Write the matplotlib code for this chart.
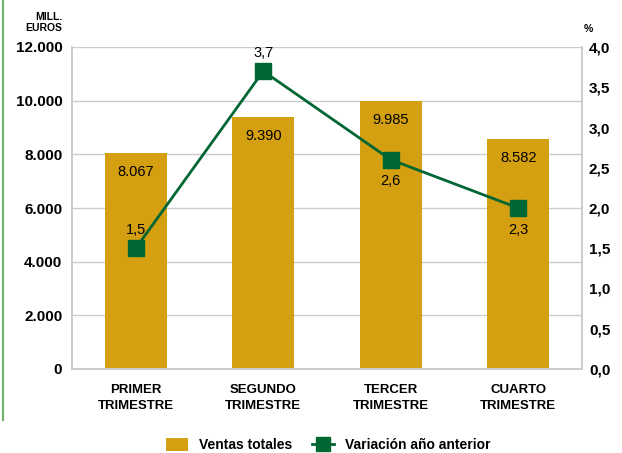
import matplotlib.pyplot as plt
from matplotlib.lines import Line2D
from matplotlib.patches import Patch

# datos
trimestres = ['PRIMER\nTRIMESTRE', 'SEGUNDO\nTRIMESTRE', 'TERCER\nTRIMESTRE', 'CUARTO\nTRIMESTRE']
ventas = [8067, 9390, 9985, 8582]
ventas_txt = ['8.067', '9.390', '9.985', '8.582']
variacion = [1.5, 3.7, 2.6, 2.0]          # posicion dibujada en el original
variacion_txt = ['1,5', '3,7', '2,6', '2,3']
var_arriba = [True, True, False, False]   # etiqueta encima o debajo del punto

izq_ticks = [0, 2000, 4000, 6000, 8000, 10000, 12000]
izq_labels = ['0', '2.000', '4.000', '6.000', '8.000', '10.000', '12.000']
der_ticks = [0, 0.5, 1.0, 1.5, 2.0, 2.5, 3.0, 3.5, 4.0]
der_labels = ['0,0', '0,5', '1,0', '1,5', '2,0', '2,5', '3,0', '3,5', '4,0']

ORO = '#D4A012'
VERDE = '#006633'
GRIS = '#cccccc'
fam = ['Liberation Sans', 'DejaVu Sans']

plt.rcParams['font.family'] = fam

fig = plt.figure(figsize=(6.22, 4.53), dpi=100)
ax = fig.add_axes([72 / 622, 1 - 369 / 453, 510 / 622, 322 / 453])
ax2 = ax.twinx()

x = list(range(len(trimestres)))
ax.bar(x, ventas, width=0.49, color=ORO, zorder=2)
ax.set_xlim(-0.5, 3.5)
ax.set_ylim(0, 12000)
ax.set_yticks(izq_ticks)
ax.set_yticklabels(izq_labels, fontweight='bold', fontsize=11)
ax.set_xticks(x)
ax.set_xticklabels(trimestres, fontweight='bold', fontsize=9.5, linespacing=1.4)
ax.tick_params(axis='y', length=0, pad=7)
ax.tick_params(axis='x', length=0, pad=11)
ax.grid(axis='y', color=GRIS, linewidth=1, zorder=0)
ax.set_axisbelow(True)

for a in (ax, ax2):
    a.spines['top'].set_visible(False)
    for s in ('left', 'right', 'bottom'):
        a.spines[s].set_color(GRIS)
        a.spines[s].set_linewidth(1.2)

for xi, v, t in zip(x, ventas, ventas_txt):
    ax.text(xi, v - 720, t, ha='center', va='center', fontsize=10.5, zorder=3)

ax2.plot(x, variacion, color=VERDE, linewidth=2, marker='s', markersize=12, zorder=4)
ax2.set_ylim(0, 4.0)
ax2.set_yticks(der_ticks)
ax2.set_yticklabels(der_labels, fontweight='bold', fontsize=11)
ax2.tick_params(axis='y', length=0, pad=5)

for xi, v, t, up in zip(x, variacion, variacion_txt, var_arriba):
    dy = 0.23 if up else -0.27
    ax2.text(xi, v + dy, t, ha='center', va='center', fontsize=10.5, zorder=5)

fig.text(62.5 / 622, 1 - 12 / 453, 'MILL.\nEUROS', ha='right', va='top',
         fontweight='bold', fontsize=7.5, linespacing=1.15)
fig.text(584 / 622, 1 - 29 / 453, '%', ha='left', va='center',
         fontweight='bold', fontsize=7.5)

# borde verde a la izquierda
fig.add_artist(Line2D([2.5 / 622, 2.5 / 622], [1 - 420 / 453, 1], transform=fig.transFigure,
                      color='#6db36d', linewidth=1.5))

handles = [Patch(facecolor=ORO, edgecolor='none', label='Ventas totales'),
           Line2D([0], [0], color=VERDE, linewidth=2, marker='s', markersize=10,
                  label='Variación año anterior')]
fig.legend(handles=handles, loc='center', bbox_to_anchor=(328 / 622, 1 - 445 / 453),
           ncol=2, frameon=False, prop={'family': fam, 'weight': 'bold', 'size': 10},
           handlelength=1.6, handleheight=1.1, columnspacing=1.4, handletextpad=0.8)

fig.savefig('out.png', dpi=100)
